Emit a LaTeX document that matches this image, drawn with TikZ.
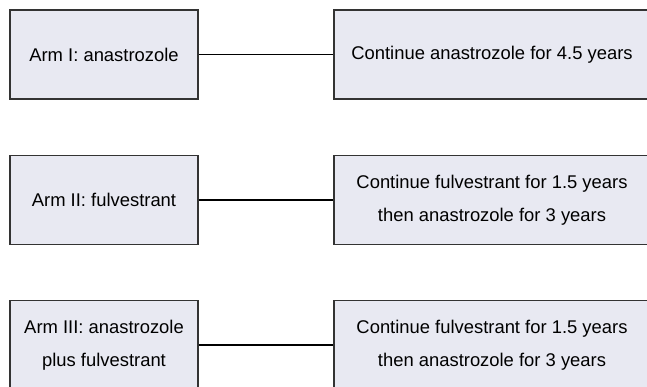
\documentclass[tikz,border=0pt]{standalone}
\usepackage{fontspec}
\setmainfont{Liberation Sans}
\definecolor{boxfill}{RGB}{232,233,242}
\definecolor{boxline}{RGB}{51,51,51}
\begin{document}
\begin{tikzpicture}[x=1pt,y=-1pt,
  armbox/.style={draw=boxline, line width=1.3pt, fill=boxfill, rectangle, inner sep=0pt,
    minimum width=188pt, minimum height=89pt, align=center,
    font=\fontsize{18.4}{33}\selectfont, text=black},
  resbox/.style={armbox, minimum width=316pt},
  link/.style={draw=black, line width=1.2pt}]
\useasboundingbox (0,0) rectangle (647,386);
\clip (0,0) rectangle (647,386);
\node[armbox] (a1) at (104,54.5) {Arm I: anastrozole};
\node[resbox] (r1) at (492,54.5) {Continue anastrozole for 4.5 years};
\node[armbox] (a2) at (104,200) {Arm II: fulvestrant};
\node[resbox] (r2) at (492,200) {Continue fulvestrant for 1.5 years\\then anastrozole for 3 years};
\node[armbox] (a3) at (104,345) {Arm III: anastrozole\\plus fulvestrant};
\node[resbox] (r3) at (492,345) {Continue fulvestrant for 1.5 years\\then anastrozole for 3 years};
\draw[link] (a1.east) -- (r1.west);
\draw[link] (a2.east) -- (r2.west);
\draw[link] (a3.east) -- (r3.west);
\end{tikzpicture}
\end{document}
